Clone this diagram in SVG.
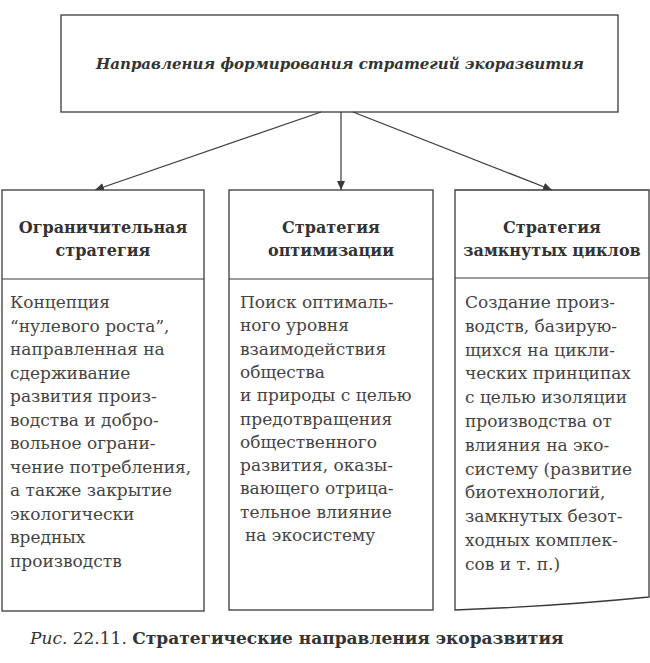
<svg xmlns="http://www.w3.org/2000/svg" width="650" height="663" viewBox="0 0 650 663">
<style>
.box{fill:#fff;stroke:#3a3a3a;stroke-width:1.3}
.ln{stroke:#3a3a3a;stroke-width:1.2;fill:none}
.t{font-family:"DejaVu Serif","Liberation Serif",serif;fill:#333}
.title{font-size:15px;font-weight:bold;font-style:italic}
.hd{font-size:16px;font-weight:bold;text-anchor:middle}
.bd{font-size:17px;fill:#444}
.cap{font-size:17px}
</style>
<defs>
<marker id="ah" markerWidth="10" markerHeight="10" refX="9" refY="5" orient="auto" markerUnits="userSpaceOnUse">
<path d="M0,1 L9,5 L0,9 Z" fill="#3a3a3a"/>
</marker>
</defs>
<rect width="650" height="663" fill="#fff"/>
<g id="top">
<rect class="box" x="61" y="15" width="557" height="97"/>
<text class="t title" x="340" y="69" text-anchor="middle">Направления формирования стратегий экоразвития</text>
</g>
<g id="connectors">
<line class="ln" x1="321" y1="112" x2="95" y2="190" marker-end="url(#ah)"/>
<line class="ln" x1="341" y1="112" x2="341" y2="190" marker-end="url(#ah)"/>
<line class="ln" x1="353" y1="112" x2="552" y2="190" marker-end="url(#ah)"/>
</g>
<g id="node-left">
<rect class="box" x="2" y="190" width="202" height="421"/>
<line class="ln" x1="2" y1="279" x2="204" y2="279"/>
<text class="t hd" x="103" y="233">Ограничительная</text>
<text class="t hd" x="103" y="256">стратегия</text>
<text class="t bd" x="10" y="308">Концепция</text>
<text class="t bd" x="10" y="331.5">“нулевого роста”,</text>
<text class="t bd" x="10" y="355">направленная на</text>
<text class="t bd" x="10" y="378.5">сдерживание</text>
<text class="t bd" x="10" y="402">развития произ-</text>
<text class="t bd" x="10" y="425.5">водства и добро-</text>
<text class="t bd" x="10" y="449">вольное ограни-</text>
<text class="t bd" x="10" y="472.5">чение потребления,</text>
<text class="t bd" x="10" y="496">а также закрытие</text>
<text class="t bd" x="10" y="519.5">экологически</text>
<text class="t bd" x="10" y="543">вредных</text>
<text class="t bd" x="10" y="566.5">производств</text>
</g>
<g id="node-middle">
<rect class="box" x="229" y="190" width="204" height="420"/>
<line class="ln" x1="229" y1="279" x2="433" y2="279"/>
<text class="t hd" x="331" y="233">Стратегия</text>
<text class="t hd" x="331" y="256">оптимизации</text>
<text class="t bd" x="240" y="308">Поиск оптималь-</text>
<text class="t bd" x="240" y="331.3">ного уровня</text>
<text class="t bd" x="240" y="354.6">взаимодействия</text>
<text class="t bd" x="240" y="377.9">общества</text>
<text class="t bd" x="240" y="401.2">и природы с целью</text>
<text class="t bd" x="240" y="424.5">предотвращения</text>
<text class="t bd" x="240" y="447.8">общественного</text>
<text class="t bd" x="240" y="471.1">развития, оказы-</text>
<text class="t bd" x="240" y="494.4">вающего отрица-</text>
<text class="t bd" x="240" y="517.7">тельное влияние</text>
<text class="t bd" x="245" y="541">на экосистему</text>
</g>
<g id="node-right">
<path class="box" d="M649,190 L455,190 L455,610 Q560,606 649,597 Z"/>
<line class="ln" x1="455" y1="278" x2="649" y2="278"/>
<text class="t hd" x="552" y="233">Стратегия</text>
<text class="t hd" x="552" y="256">замкнутых циклов</text>
<text class="t bd" x="465" y="308">Создание произ-</text>
<text class="t bd" x="465" y="331.8">водств, базирую-</text>
<text class="t bd" x="465" y="355.6">щихся на цикли-</text>
<text class="t bd" x="465" y="379.4">ческих принципах</text>
<text class="t bd" x="465" y="403.2">с целью изоляции</text>
<text class="t bd" x="465" y="427">производства от</text>
<text class="t bd" x="465" y="450.8">влияния на эко-</text>
<text class="t bd" x="465" y="474.6">систему (развитие</text>
<text class="t bd" x="465" y="498.4">биотехнологий,</text>
<text class="t bd" x="465" y="522.2">замкнутых безот-</text>
<text class="t bd" x="465" y="546">ходных комплек-</text>
<text class="t bd" x="465" y="569.8">сов и т. п.)</text>
</g>
<g id="caption">
<text class="t cap" x="30" y="644"><tspan font-style="italic">Рис.</tspan> 22.11. <tspan font-weight="bold">Стратегические направления экоразвития</tspan></text>
</g>
</svg>
